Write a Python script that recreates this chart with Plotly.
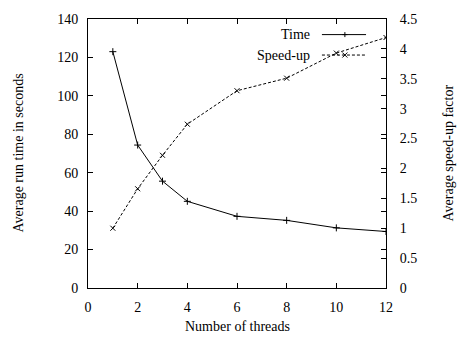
import plotly.graph_objects as go

threads = [1, 2, 3, 4, 6, 8, 10, 12]
time_s = [123, 74.4, 55.6, 45.1, 37.3, 35.2, 31.3, 29.4]
speedup = [1.0, 1.66, 2.22, 2.74, 3.30, 3.51, 3.93, 4.19]

x_ticks = [0, 2, 4, 6, 8, 10, 12]
y_ticks = [0, 20, 40, 60, 80, 100, 120, 140]
y2_ticks = [0, 0.5, 1, 1.5, 2, 2.5, 3, 3.5, 4, 4.5]
y2_labels = ["0", "0.5", "1", "1.5", "2", "2.5", "3", "3.5", "4", "4.5"]

FONT = "Liberation Serif"
W, H = 463, 345
ML, MR, MT, MB = 88, 77, 17, 57

fig = go.Figure()
fig.add_trace(go.Scatter(
    x=threads, y=time_s, mode="lines+markers", name="Time",
    line=dict(color="black", width=1),
    marker=dict(symbol="cross-thin", size=5, color="black",
                line=dict(color="black", width=1)),
    yaxis="y", showlegend=False))
fig.add_trace(go.Scatter(
    x=threads, y=speedup, mode="lines+markers", name="Speed-up",
    line=dict(color="black", width=1, dash="3px,2px"),
    marker=dict(symbol="x-thin", size=5, color="black",
                line=dict(color="black", width=1)),
    yaxis="y2", showlegend=False))

axis_common = dict(showline=True, linecolor="black", linewidth=1,
                   ticks="inside", ticklen=5, tickcolor="black", tickwidth=1,
                   showgrid=False, zeroline=False,
                   tickfont=dict(family=FONT, size=14, color="black"))

fig.update_layout(
    width=W, height=H,
    margin=dict(l=ML, r=MR, t=MT, b=MB, pad=0),
    paper_bgcolor="white", plot_bgcolor="white",
    font=dict(family=FONT, size=14, color="black"),
    xaxis=dict(range=[0, 12], tickvals=x_ticks, mirror="ticks",
               ticklabelstandoff=6, **axis_common),
    yaxis=dict(range=[0, 140], tickvals=y_ticks, mirror="ticks",
               ticklabelstandoff=6, **axis_common),
    yaxis2=dict(range=[0, 4.5], tickvals=y2_ticks, ticktext=y2_labels,
                overlaying="y", side="right", ticklabelstandoff=10,
                **axis_common),
)

# axis titles
fig.add_annotation(text="Number of threads", xref="paper", yref="paper",
                   x=0.5, y=0, yshift=-38, showarrow=False,
                   xanchor="center", yanchor="middle",
                   font=dict(family=FONT, size=14))
fig.add_annotation(text="Average run time in seconds", xref="paper", yref="paper",
                   x=0, y=0.5, xshift=-70, showarrow=False, textangle=-90,
                   xanchor="center", yanchor="middle",
                   font=dict(family=FONT, size=14))
fig.add_annotation(text="Average speed-up factor", xref="paper", yref="paper",
                   x=1, y=0.5, xshift=62, showarrow=False, textangle=-90,
                   xanchor="center", yanchor="middle",
                   font=dict(family=FONT, size=14))

# manual gnuplot-style legend (text left, sample right)
leg = [("Time", 0.942, None, "cross"), ("Speed-up", 0.866, "3px,2px", "x")]
for label, yy, dash, sym in leg:
    fig.add_annotation(text=label, xref="paper", yref="paper", x=0.752, y=yy,
                       showarrow=False, xanchor="right", yanchor="middle",
                       font=dict(family=FONT, size=14))
    fig.add_shape(type="line", xref="paper", yref="paper",
                  x0=0.785, x1=0.933, y0=yy, y1=yy,
                  line=dict(color="black", width=1, dash=dash or "solid"))
    s = 2.5
    if sym == "cross":
        segs = [(-s, 0, s, 0), (0, -s, 0, s)]
    else:
        segs = [(-s, -s, s, s), (-s, s, s, -s)]
    for a, b, c, d in segs:
        fig.add_shape(type="line", xref="paper", yref="paper",
                      xsizemode="pixel", ysizemode="pixel",
                      xanchor=0.862, yanchor=yy,
                      x0=a, y0=b, x1=c, y1=d,
                      line=dict(color="black", width=1))

fig.write_html("out.html")
